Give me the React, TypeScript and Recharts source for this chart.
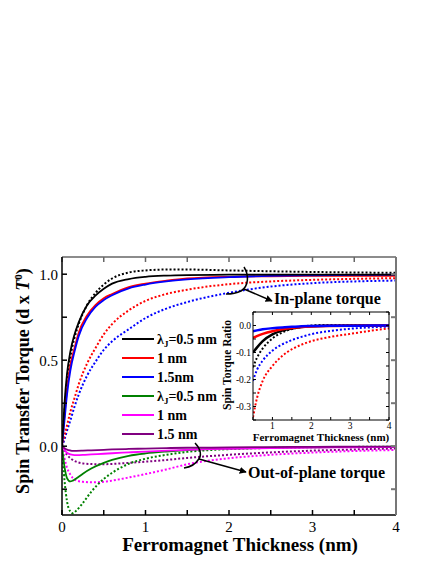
import React from 'react';
import { LineChart, Line, XAxis, YAxis } from 'recharts';

// ---------- main chart data ----------
const thicknessIn = [0, 0.03, 0.06, 0.1, 0.15, 0.2, 0.3, 0.4, 0.5, 0.6, 0.8, 1.0, 1.25, 1.5, 2, 2.5, 3, 3.5, 4];
const inBlackSolid = [0, 0.25, 0.42, 0.55, 0.65, 0.72, 0.82, 0.875, 0.915, 0.945, 0.972, 0.985, 0.992, 0.995, 0.997, 0.998, 0.998, 0.998, 0.998];
const inBlackDotted = [0, 0.2, 0.38, 0.52, 0.63, 0.71, 0.82, 0.89, 0.94, 0.975, 1.01, 1.022, 1.027, 1.027, 1.022, 1.017, 1.013, 1.01, 1.008];
const inRedSolid = [0, 0.18, 0.33, 0.47, 0.57, 0.66, 0.76, 0.82, 0.86, 0.885, 0.925, 0.945, 0.962, 0.975, 0.985, 0.988, 0.99, 0.99, 0.99];
const inBlueSolid = [0, 0.15, 0.3, 0.44, 0.55, 0.64, 0.745, 0.81, 0.85, 0.878, 0.918, 0.94, 0.958, 0.97, 0.983, 0.99, 0.994, 0.996, 0.997];
const inRedDotted = [0, 0.06, 0.12, 0.2, 0.28, 0.36, 0.48, 0.57, 0.65, 0.71, 0.79, 0.845, 0.885, 0.91, 0.942, 0.958, 0.967, 0.973, 0.977];
const inBlueDotted = [0, 0.04, 0.09, 0.15, 0.23, 0.3, 0.41, 0.49, 0.56, 0.61, 0.68, 0.745, 0.8, 0.838, 0.892, 0.928, 0.948, 0.958, 0.963];

const thicknessOut = [0, 0.03, 0.06, 0.1, 0.13, 0.17, 0.25, 0.35, 0.5, 0.6, 0.8, 1.0, 1.25, 1.5, 2, 2.5, 3, 3.5, 4];
const outGreenSolid = [0, -0.12, -0.185, -0.205, -0.2, -0.188, -0.16, -0.13, -0.097, -0.08, -0.056, -0.042, -0.031, -0.023, -0.014, -0.009, -0.006, -0.004, -0.003];
const outGreenDotted = [0, -0.2, -0.32, -0.38, -0.39, -0.375, -0.33, -0.265, -0.19, -0.155, -0.102, -0.073, -0.05, -0.033, -0.017, -0.01, -0.006, -0.004, -0.003];
const outMagentaSolid = [0, -0.022, -0.038, -0.048, -0.051, -0.052, -0.051, -0.048, -0.044, -0.041, -0.036, -0.031, -0.026, -0.021, -0.015, -0.011, -0.008, -0.006, -0.005];
const outMagentaDotted = [0, -0.07, -0.125, -0.165, -0.185, -0.198, -0.207, -0.21, -0.207, -0.2, -0.182, -0.162, -0.135, -0.105, -0.07, -0.05, -0.037, -0.028, -0.022];
const outPurpleSolid = [0, -0.012, -0.02, -0.025, -0.027, -0.027, -0.026, -0.024, -0.021, -0.019, -0.016, -0.014, -0.011, -0.009, -0.007, -0.005, -0.004, -0.003, -0.003];
const outPurpleDotted = [0, -0.03, -0.05, -0.07, -0.08, -0.09, -0.1, -0.104, -0.105, -0.103, -0.097, -0.09, -0.08, -0.068, -0.05, -0.036, -0.026, -0.019, -0.013];

// ---------- inset data ----------
const thicknessRatio = [0.5, 0.6, 0.75, 1.0, 1.25, 1.5, 1.75, 2, 2.5, 3, 3.5, 4];
const ratioBlackSolid = [-0.1, -0.082, -0.058, -0.033, -0.019, -0.011, -0.006, -0.003, -0.001, 0, 0, 0];
const ratioRedSolid = [-0.046, -0.039, -0.031, -0.021, -0.014, -0.009, -0.006, -0.004, -0.002, -0.001, 0, 0];
const ratioBlueSolid = [-0.021, -0.018, -0.014, -0.01, -0.007, -0.005, -0.003, -0.002, -0.001, -0.001, 0, 0];
const ratioBlackDotted = [-0.155, -0.12, -0.085, -0.048, -0.026, -0.013, -0.005, 0, 0.002, 0.002, 0.001, 0.001];
const ratioRedDotted = [-0.34, -0.27, -0.205, -0.15, -0.113, -0.088, -0.071, -0.058, -0.042, -0.031, -0.02, -0.011];
const ratioBlueDotted = [-0.205, -0.165, -0.13, -0.093, -0.07, -0.054, -0.042, -0.032, -0.02, -0.012, -0.007, -0.004];

// ---------- ticks & labels ----------
const mainXTicks = [0, 0.5, 1, 1.5, 2, 2.5, 3, 3.5, 4];
const mainYTicks = [-0.25, 0, 0.25, 0.5, 0.75, 1.0];
const insetXTicks = [0.5, 1, 1.5, 2, 2.5, 3, 3.5, 4];
const insetYTicks = [-0.35, -0.3, -0.25, -0.2, -0.15, -0.1, -0.05, 0, 0.05];

const legendLabels = ['λJ=0.5 nm', '1 nm', '1.5nm', 'λJ=0.5 nm', '1 nm', '1.5 nm'];
const legendColors = ['#000000', '#ff0000', '#0000ff', '#008000', '#ff00ff', '#800080'];

const BLACK = '#000000';
const RED = '#ff0000';
const BLUE = '#0000ff';
const GREEN = '#008000';
const MAGENTA = '#ff00ff';
const PURPLE = '#800080';

const zip = (xs: number[], ys: number[]) => xs.map((x, i) => ({ x, y: ys[i] }));

const mainSeries = [
  { key: 'pd', data: zip(thicknessOut, outPurpleDotted), color: PURPLE, dotted: true },
  { key: 'md', data: zip(thicknessOut, outMagentaDotted), color: MAGENTA, dotted: true },
  { key: 'gd', data: zip(thicknessOut, outGreenDotted), color: GREEN, dotted: true },
  { key: 'gs', data: zip(thicknessOut, outGreenSolid), color: GREEN, dotted: false },
  { key: 'ms', data: zip(thicknessOut, outMagentaSolid), color: MAGENTA, dotted: false },
  { key: 'ps', data: zip(thicknessOut, outPurpleSolid), color: PURPLE, dotted: false },
  { key: 'bd', data: zip(thicknessIn, inBlueDotted), color: BLUE, dotted: true },
  { key: 'rd', data: zip(thicknessIn, inRedDotted), color: RED, dotted: true },
  { key: 'kd', data: zip(thicknessIn, inBlackDotted), color: BLACK, dotted: true },
  { key: 'rs', data: zip(thicknessIn, inRedSolid), color: RED, dotted: false },
  { key: 'bs', data: zip(thicknessIn, inBlueSolid), color: BLUE, dotted: false },
  { key: 'ks', data: zip(thicknessIn, inBlackSolid), color: BLACK, dotted: false },
];

const insetSeries = [
  { key: 'rd', data: zip(thicknessRatio, ratioRedDotted), color: RED, dotted: true },
  { key: 'bd', data: zip(thicknessRatio, ratioBlueDotted), color: BLUE, dotted: true },
  { key: 'kd', data: zip(thicknessRatio, ratioBlackDotted), color: BLACK, dotted: true },
  { key: 'ks', data: zip(thicknessRatio, ratioBlackSolid), color: BLACK, dotted: false },
  { key: 'rs', data: zip(thicknessRatio, ratioRedSolid), color: RED, dotted: false },
  { key: 'bs', data: zip(thicknessRatio, ratioBlueSolid), color: BLUE, dotted: false },
];

const SERIF = '"Liberation Serif", "Times New Roman", serif';

const near = (v: number, step: number) => Math.abs(v / step - Math.round(v / step)) < 1e-6;
const fmt1 = (v: number) => (Math.abs(v) < 1e-9 ? '0.0' : v.toFixed(1));

export default function App() {
  const legendTop = 339;
  const legendStep = 19;
  return (
    <div style={{ position: 'absolute', left: 0, top: 0, width: 436, height: 564, background: '#fff' }}>
      <div style={{ position: 'absolute', left: 0, top: 0 }}>
        <LineChart width={436} height={564} margin={{ top: 252, left: 22, right: 30, bottom: 19 }}>
          <XAxis
            xAxisId="b"
            type="number"
            dataKey="x"
            domain={[0, 4]}
            ticks={mainXTicks}
            allowDataOverflow
            orientation="bottom"
            height={30}
            tickSize={-5}
            tickMargin={11}
            stroke={BLACK}
            strokeWidth={1.5}
            tickFormatter={(v: number) => (near(v, 1) ? String(v) : '')}
            tick={{ fill: BLACK, fontSize: 15, fontFamily: SERIF }}
          />
          <XAxis
            xAxisId="t"
            type="number"
            dataKey="x"
            domain={[0, 4]}
            ticks={mainXTicks}
            allowDataOverflow
            orientation="top"
            height={5}
            tickSize={-5}
            stroke="#666"
            strokeWidth={1.5}
            tickFormatter={() => ''}
          />
          <YAxis
            yAxisId="l"
            type="number"
            domain={[-0.4, 1.1]}
            ticks={mainYTicks}
            allowDataOverflow
            width={40}
            tickSize={-5}
            tickMargin={9}
            stroke={BLACK}
            strokeWidth={1.5}
            tickFormatter={(v: number) => (near(v, 0.5) ? fmt1(v) : '')}
            tick={{ fill: BLACK, fontSize: 15, fontFamily: SERIF }}
          />
          <YAxis
            yAxisId="r"
            type="number"
            orientation="right"
            domain={[-0.4, 1.1]}
            ticks={mainYTicks}
            allowDataOverflow
            width={10}
            tickSize={-5}
            stroke="#777"
            strokeWidth={2}
            tickFormatter={() => ''}
          />
          {mainSeries.map((s) => (
            <Line
              key={s.key}
              xAxisId="b"
              yAxisId="l"
              data={s.data}
              dataKey="y"
              type="monotone"
              stroke={s.color}
              strokeWidth={s.dotted ? 2 : 1.8}
              strokeDasharray={s.dotted ? '2 2' : undefined}
              dot={false}
              activeDot={false}
              isAnimationActive={false}
            />
          ))}
        </LineChart>
      </div>

      <div style={{ position: 'absolute', left: 200, top: 295 }}>
        <LineChart width={200} height={160} margin={{ top: 12, left: 23, right: 6, bottom: 15 }}>
          <XAxis
            xAxisId="b"
            type="number"
            dataKey="x"
            domain={[0.5, 4]}
            ticks={insetXTicks}
            allowDataOverflow
            orientation="bottom"
            height={20}
            tickSize={-3}
            tickMargin={5}
            stroke={BLACK}
            tickFormatter={(v: number) => (near(v, 1) ? String(v) : '')}
            tick={{ fill: BLACK, fontSize: 9.5, fontFamily: SERIF }}
          />
          <XAxis
            xAxisId="t"
            type="number"
            dataKey="x"
            domain={[0.5, 4]}
            ticks={insetXTicks}
            allowDataOverflow
            orientation="top"
            height={5}
            tickSize={-3}
            stroke={BLACK}
            tickFormatter={() => ''}
          />
          <YAxis
            yAxisId="l"
            type="number"
            domain={[-0.35, 0.05]}
            ticks={insetYTicks}
            allowDataOverflow
            width={30}
            tickSize={-3}
            tickMargin={5}
            stroke={BLACK}
            tickFormatter={(v: number) => (near(v, 0.1) ? fmt1(v) : '')}
            tick={{ fill: BLACK, fontSize: 9.5, fontFamily: SERIF }}
          />
          <YAxis
            yAxisId="r"
            type="number"
            orientation="right"
            domain={[-0.35, 0.05]}
            ticks={insetYTicks}
            allowDataOverflow
            width={5}
            tickSize={-3}
            stroke={BLACK}
            tickFormatter={() => ''}
          />
          {insetSeries.map((s) => (
            <Line
              key={s.key}
              xAxisId="b"
              yAxisId="l"
              data={s.data}
              dataKey="y"
              type="monotone"
              stroke={s.color}
              strokeWidth={s.dotted ? 2 : 2.5}
              strokeDasharray={s.dotted ? '2 2' : undefined}
              dot={false}
              activeDot={false}
              isAnimationActive={false}
            />
          ))}
        </LineChart>
      </div>

      <svg
        width={436}
        height={564}
        style={{ position: 'absolute', left: 0, top: 0, pointerEvents: 'none' }}
        fontFamily={SERIF}
      >
        <defs>
          <marker id="arr" viewBox="0 0 10 10" refX="9" refY="5" markerWidth="7" markerHeight="7" orient="auto-start-reverse" markerUnits="userSpaceOnUse">
            <path d="M0,0 L10,5 L0,10 z" fill="#000" />
          </marker>
        </defs>
        {/* axis titles */}
        <text
          transform="translate(29,381) rotate(-90)"
          textAnchor="middle"
          fontWeight="bold"
          fontSize={18}
          fill="#000"
        >
          Spin Transfer Torque (d x <tspan fontStyle="italic">T</tspan>
          <tspan dy={-7} fontSize={11}>0</tspan>
          <tspan dy={7}>)</tspan>
        </text>
        <text x={240} y={551} textAnchor="middle" fontWeight="bold" fontSize={19} fill="#000">
          Ferromagnet Thickness (nm)
        </text>

        {/* inset titles */}
        <text x={321} y={441} textAnchor="middle" fontWeight="bold" fontSize={11} fill="#000">
          Ferromagnet Thickness (nm)
        </text>
        <text transform="translate(231,365) rotate(-90)" textAnchor="middle" fontWeight="bold" fontSize={11.5} fill="#000">
          Spin Torque Ratio
        </text>

        {/* legend */}
        {legendLabels.map((lab, i) => {
          const y = legendTop + i * legendStep;
          const hasLambda = lab.startsWith('λJ');
          return (
            <g key={i}>
              <line x1={122} x2={154} y1={y} y2={y} stroke={legendColors[i]} strokeWidth={2} />
              <text x={157} y={y + 5} fontWeight="bold" fontSize={14} fill="#000">
                {hasLambda ? (
                  <>
                    λ<tspan dy={3} fontSize={9}>J</tspan>
                    <tspan dy={-3}>{lab.slice(2)}</tspan>
                  </>
                ) : (
                  lab
                )}
              </text>
            </g>
          );
        })}

        {/* in-plane annotation */}
        <path d="M244,267 C249,275 249,286 241,291 C237,293 231,294 226,294" fill="none" stroke="#000" strokeWidth={1.5} />
        <line x1={244} y1={289} x2={272} y2={301} stroke="#000" strokeWidth={1.5} markerEnd="url(#arr)" />
        <text x={274} y={304} fontWeight="bold" fontSize={16} fill="#000">In-plane torque</text>

        {/* out-of-plane annotation */}
        <path d="M195,443 C201,449 202,456 198,460 C195,465 190,467 184,468" fill="none" stroke="#000" strokeWidth={1.5} />
        <line x1={199} y1={459} x2={246} y2={472} stroke="#000" strokeWidth={1.5} markerEnd="url(#arr)" />
        <text x={248} y={478} fontWeight="bold" fontSize={16} fill="#000">Out-of-plane torque</text>
      </svg>
    </div>
  );
}
